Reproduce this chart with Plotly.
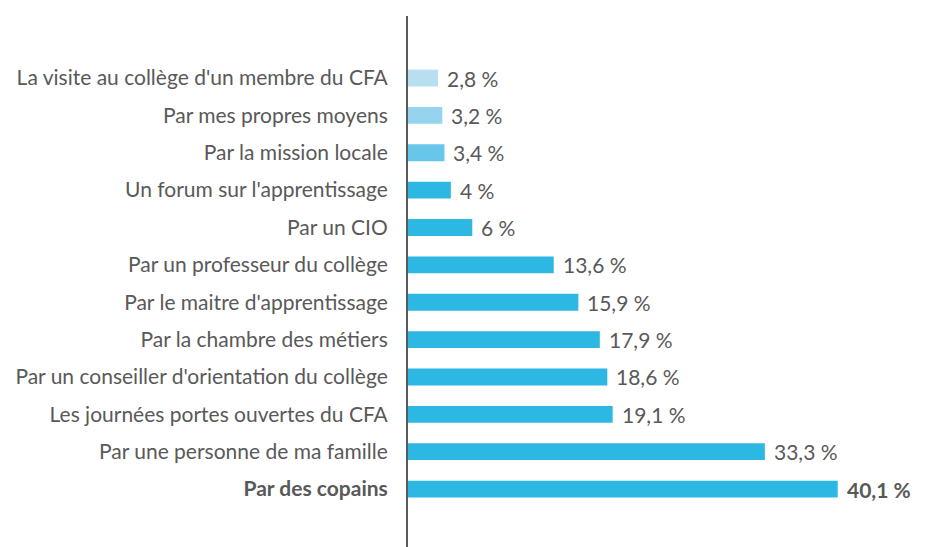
import plotly.graph_objects as go

categories = [
    "Par des copains",
    "Par une personne de ma famille",
    "Les journées portes ouvertes du CFA",
    "Par un conseiller d'orientation du collège",
    "Par la chambre des métiers",
    "Par le maitre d'apprentissage",
    "Par un professeur du collège",
    "Par un CIO",
    "Un forum sur l'apprentissage",
    "Par la mission locale",
    "Par mes propres moyens",
    "La visite au collège d'un membre du CFA",
]
values = [40.1, 33.3, 19.1, 18.6, 17.9, 15.9, 13.6, 6, 4, 3.4, 3.2, 2.8]
bar_colors = ["#2DB8E4"] * 9 + ["#68C6EA", "#95D3EE", "#B7DFF0"]

def fmt(v):
    s = ("%g" % v).replace(".", ",")
    return s + " %"

labels = [fmt(v) for v in values]
tick_text = ["<b>" + categories[0] + "</b>"] + categories[1:]
val_text = ["<b>" + labels[0] + "</b>"] + labels[1:]

TXT = "#595959"
FONT = "Lato"
FS = 21

fig = go.Figure()
fig.add_trace(go.Bar(
    x=values,
    y=categories,
    orientation="h",
    marker=dict(color=bar_colors, line=dict(width=0)),
    hoverinfo="skip",
))

for c, v, t in zip(categories, values, val_text):
    fig.add_annotation(
        x=v, y=c, text=t, showarrow=False,
        xanchor="left", yanchor="middle", xshift=7,
        font=dict(family=FONT, size=FS, color=TXT),
    )

fig.update_layout(
    width=928, height=539,
    margin=dict(l=400, r=0, t=8, b=0),
    paper_bgcolor="white", plot_bgcolor="white",
    bargap=0.55,
    showlegend=False,
    font=dict(family=FONT, size=FS, color=TXT),
    xaxis=dict(range=[0, 49.27], visible=False, showgrid=False, zeroline=False),
    yaxis=dict(
        range=[-1.55, 12.66],
        tickmode="array", tickvals=categories, ticktext=tick_text,
        showline=True, linecolor=TXT, linewidth=2,
        showgrid=False, zeroline=False, ticks="",
        ticklabelstandoff=14,
        tickfont=dict(family=FONT, size=FS, color=TXT),
    ),
)

fig.write_html("out.html")
